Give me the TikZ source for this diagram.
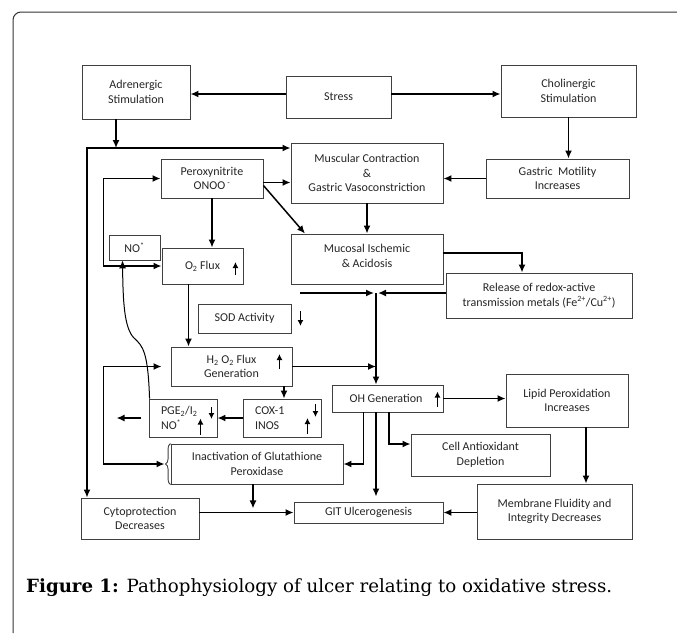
\documentclass[tikz,border=0pt]{standalone}
\usepackage{fontspec}
\setmainfont{Carlito}
\newfontfamily\capfont{DejaVu Serif}
\usetikzlibrary{arrows.meta,decorations.pathreplacing}

\begin{document}
\begin{tikzpicture}[
    x=1pt,
    y=-1pt,
    >={Latex[length=8pt,width=7pt]},
    box/.style={
      draw=black!75,
      line width=0.9pt,
      align=center,
      inner sep=0pt,
      text=black!85,
      font=\fontsize{12}{14.5}\selectfont
    },
    flow/.style={
      ->,
      line width=1.5pt
    },
    tick/.style={
      -{Latex[length=6pt,width=6pt]},
      line width=1.4pt
    }
  ]
    \useasboundingbox (0,0) rectangle (677,633);
    \fill[white] (0,0) rectangle (677,633);
    \draw[black!80, line width=1pt, rounded corners=8pt] (13,633) -- (13,12) -- (677,12);

    \node[box, minimum width=108pt, minimum height=54pt] (adr) at (136,92) {Adrenergic\\Stimulation};
    \node[box, minimum width=105pt, minimum height=42pt] (stress) at (338.5,97) {Stress};
    \node[box, minimum width=135pt, minimum height=52pt] (chol) at (568.5,91) {Cholinergic\\Stimulation};
    \node[box, minimum width=102pt, minimum height=39pt] (perox) at (212,178.5) {Peroxynitrite\\ONOO\,\textsuperscript{-}};
    \node[box, minimum width=152pt, minimum height=60pt] (musc) at (367,173) {Muscular Contraction\\\&\\Gastric Vasoconstriction};
    \node[box, minimum width=143pt, minimum height=39pt] (motil) at (557.5,178.5) {Gastric\ \ Motility\\Increases};
    \node[box, minimum width=51pt, minimum height=25pt] (no) at (134.5,247.5) {NO\textsuperscript{*}};
    \node[box, minimum width=81pt, minimum height=36pt] (oflux) at (202.5,266) {O\textsubscript{2} Flux};
    \node[box, minimum width=152pt, minimum height=50pt] (ischem) at (367,259) {Mucosal Ischemic\\\& Acidosis\\[-8pt]};
    \node[box, minimum width=186pt, minimum height=45pt] (metals) at (539,295.5) {Release of redox-active\\transmission metals (Fe\textsuperscript{2+}/Cu\textsuperscript{2+})};
    \node[box, minimum width=93pt, minimum height=29pt] (sod) at (244.5,318.5) {SOD Activity};
    \node[box, minimum width=121pt, minimum height=39pt] (hflux) at (231.5,366.5) {H\textsubscript{2} O\textsubscript{2} Flux\\Generation};
    \node[box, minimum width=111pt, minimum height=27pt] (ohgen) at (387.5,398.5) {OH Generation\hspace{3pt}};
    \node[box, minimum width=122pt, minimum height=53pt] (lipid) at (567,400.5) {Lipid Peroxidation\\Increases};
    \node[box, align=left, text width=44pt, inner xsep=12pt, minimum height=38pt] (pge) at (183,418) {PGE\textsubscript{2}/I\textsubscript{2}\\NO\textsuperscript{*}};
    \node[box, align=left, text width=54pt, inner xsep=12pt, minimum height=38pt] (cox) at (282,418) {COX-1\\INOS};
    \node[box, minimum width=139pt, minimum height=42pt] (antiox) at (480.5,455) {Cell Antioxidant\\Depletion};
    \node[box, minimum width=172pt, minimum height=40pt] (gpx) at (257,464) {Inactivation of Glutathione\\Peroxidase};
    \node[box, minimum width=118pt, minimum height=41pt] (cyto) at (140,518.5) {Cytoprotection\\Decreases};
    \node[box, minimum width=149pt, minimum height=21pt] (git) at (368.5,512.5) {GIT Ulcerogenesis};
    \node[box, minimum width=155pt, minimum height=55pt] (membr) at (554.5,511.5) {Membrane Fluidity and\\Integrity Decreases};

    \node[anchor=west, inner sep=0pt, font=\capfont\fontsize{18.2}{21}\selectfont] (caption) at (26,588) {\textbf{Figure 1:} Pathophysiology of ulcer relating to oxidative stress.};

    \coordinate (bus) at (87,148);
    \coordinate (meet) at (376,293);
    \coordinate (feed) at (300,293);

    \draw[flow] ([yshift=3pt]stress.west) -- ([yshift=3pt]stress.west -| adr.east);
    \draw[flow] ([yshift=3pt]stress.east) -- ([yshift=3pt]stress.east -| chol.west);
    \draw[flow] ([xshift=-20pt]adr.south) -- ([xshift=-20pt]adr.south |- bus);
    \draw[flow,<->] (bus |- cyto.north) -- (bus) -- (bus -| musc.west);
    \draw[flow] (chol.south) -- (chol.south |- motil.north);
    \draw[flow] (motil.west) -- (motil.west -| musc.east);
    \draw[flow] ([yshift=-4pt]perox.east) -- ([yshift=-4pt]perox.east -| musc.west);
    \draw[flow] ([yshift=-7pt]perox.east) -- ([xshift=-62pt]ischem.north);
    \draw[flow] (musc.south) -- (ischem.north);
    \draw[flow] ([yshift=6pt]ischem.east) -| ([xshift=-17pt]metals.north);
    \draw[flow] (feed) -- ([xshift=-2pt]meet);
    \draw[flow] (metals.west |- meet) -- ([xshift=2pt]meet);
    \draw[flow] (meet) -- (meet |- ohgen.north);
    \draw[flow] (perox.south) -- (perox.south |- oflux.north);
    \draw[flow,<->] (perox.west) -- ++(-57,0) |- (oflux.west);
    \draw[flow] ([xshift=-14pt]oflux.south) -- ([xshift=-14pt]oflux.south |- hflux.north);
    \draw[flow] (hflux.east) -- (hflux.east -| meet);
    \draw[flow,<->] ([xshift=-6pt]gpx.west) -- ++(-61,0) |- ([xshift=-9pt]hflux.west);
    \draw[flow] ([xshift=52.5pt]hflux.south) -- ([xshift=52.5pt]hflux.south |- cox.north);
    \draw[flow] (cox.west) -- (pge.east);
    \draw[flow] ([xshift=-8pt]pge.west) -- ++(-24,0);
    \draw[flow, line width=1pt] ([xshift=1pt]pge.north west) .. controls (148,352) and (143,346) .. (134,338) .. controls (124,328) and (123,300) .. ([xshift=-12pt]no.south);
    \draw[flow] (ohgen.east) -- (ohgen.east -| lipid.west);
    \draw[flow] ([xshift=19pt]lipid.south) -- ([xshift=19pt]lipid.south |- membr.north);
    \draw[flow] ([xshift=-24pt]ohgen.south) |- (gpx.east);
    \draw[flow] (ohgen.south -| meet) -- ([yshift=5pt]git.north -| meet);
    \draw[flow] ([xshift=1.5pt]ohgen.south) |- ([yshift=11pt]antiox.west);
    \draw[flow] ([xshift=-4pt]gpx.south) -- ++(0,24);
    \draw[flow] (cyto.east |- git.west) -- (git.west);
    \draw[flow] (membr.west |- git.east) -- (git.east);

    \draw[black!75, line width=0.9pt, decorate, decoration={brace, amplitude=5pt}] (gpx.south west) -- (gpx.north west);

    \foreach \n/\dx/\dy/\l in {oflux/-8/-9/-13, hflux/-13/-2.5/-15, ohgen/-6/-8/-15, pge/-6/11/12, pge/-17/-16.5/-16, cox/-6/14/13, cox/-14/-16/-16, sod/9/7.5/15}
      \draw[tick] ([xshift=\dx pt,yshift=\dy pt]\n.east) -- ++(0,\l);
  \end{tikzpicture}
\end{document}
